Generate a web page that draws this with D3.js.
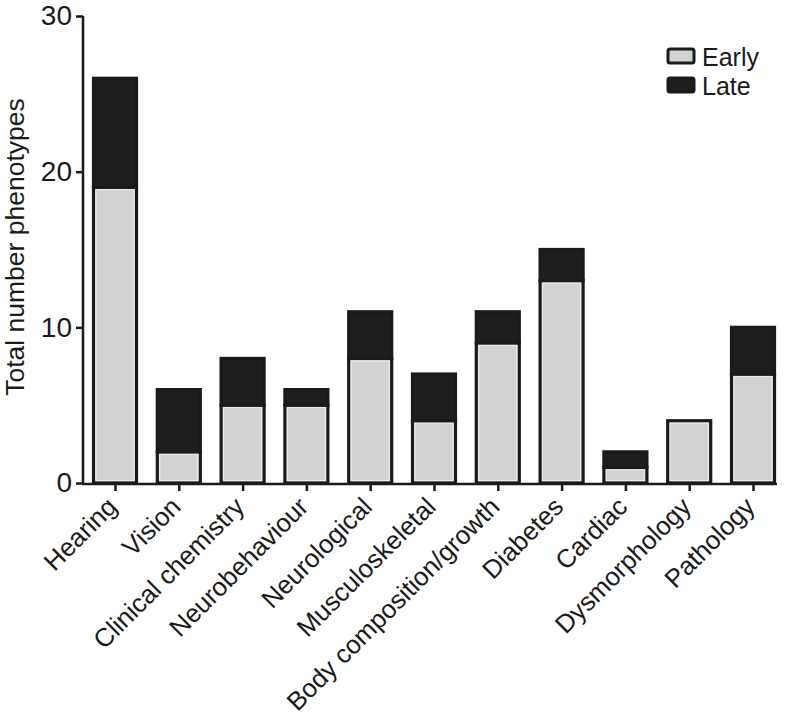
<!DOCTYPE html>
<html><head><meta charset="utf-8">
<script src="https://cdn.jsdelivr.net/npm/d3@7"></script>
<style>body{margin:0;background:#fff}svg{display:block}text{font-family:"Liberation Sans",Arial,Helvetica,sans-serif;fill:#1a1a1a}</style>
</head><body>
<script>
const categories = ["Hearing","Vision","Clinical chemistry","Neurobehaviour","Neurological","Musculoskeletal","Body composition/growth","Diabetes","Cardiac","Dysmorphology","Pathology"];
const early = [19,2,5,5,8,4,9,13,1,4,7];
const late = [7,4,3,1,3,3,2,2,1,0,3];
const seriesNames = ["Early","Late"];
const seriesColors = ["#d1d2d4","#1f1d1e"];
const yTicks = [0,10,20,30];

const W=788,H=721;
const svg=d3.select("body").append("svg").attr("width",W).attr("height",H);
const x=d3.scalePoint().domain(categories).range([115,753]);
const y=d3.scaleLinear().domain([0,30]).range([483,16]);
const bw=43;

const rows=categories.map((c,i)=>({c,early:early[i],late:late[i]}));
const stack=d3.stack().keys(["early","late"])(rows);

const g=svg.append("g");
stack.forEach((layer,li)=>{
  g.selectAll(null).data(layer.filter(d=>d[1]>d[0])).enter().append("rect")
    .attr("x",d=>x(d.data.c)-bw/2).attr("width",bw)
    .attr("y",d=>y(d[1])).attr("height",d=>y(d[0])-y(d[1]))
    .attr("fill",seriesColors[li]).attr("stroke","#1a1a1a").attr("stroke-width",3.2);
});
g.selectAll(null).data(stack[0]).enter().append("rect")
  .attr("x",d=>x(d.data.c)-bw/2+2.5).attr("width",bw-5)
  .attr("y",d=>y(d[1])+2.5).attr("height",d=>Math.max(0,y(d[0])-y(d[1])-5))
  .attr("fill","none").attr("stroke","#eeeeee").attr("stroke-width",1);

const ya=svg.append("g").attr("transform","translate(83,0)")
  .call(d3.axisLeft(y).tickValues(yTicks).tickSize(7).tickPadding(4));
ya.select(".domain").attr("stroke","#1a1a1a").attr("stroke-width",2.5).attr("d","M0,16V484.5");
ya.selectAll(".tick line").attr("stroke","#1a1a1a").attr("stroke-width",2.5);
ya.selectAll(".tick text").attr("font-size",28).attr("fill","#1a1a1a").attr("font-family","Liberation Sans, Arial");

const xa=svg.append("g").attr("transform","translate(0,484)")
  .call(d3.axisBottom(x).tickSize(7).tickFormat(""));
xa.select(".domain").attr("stroke","#1a1a1a").attr("stroke-width",2.5).attr("d","M82,0H777");
xa.selectAll(".tick line").attr("stroke","#1a1a1a").attr("stroke-width",2.5);
svg.append("g").selectAll(null).data(categories).enter().append("text")
  .attr("transform",d=>`translate(${x(d)-3},${502}) rotate(-45)`)
  .attr("text-anchor","end").attr("dy","0.35em").attr("font-size",25.8).text(d=>d);

svg.append("text").attr("transform","translate(24,247) rotate(-90)")
  .attr("text-anchor","middle").attr("font-size",26.5).text("Total number phenotypes");

const lg=svg.append("g").attr("transform","translate(667,48)");
seriesNames.forEach((s,i)=>{
  lg.append("rect").attr("x",1).attr("y",i*29+1).attr("width",26).attr("height",14).attr("rx",2)
    .attr("fill",seriesColors[i]).attr("stroke","#1a1a1a").attr("stroke-width",3);
  lg.append("text").attr("x",35).attr("y",i*29+18).attr("font-size",25).text(s);
});
</script>
</body></html>
